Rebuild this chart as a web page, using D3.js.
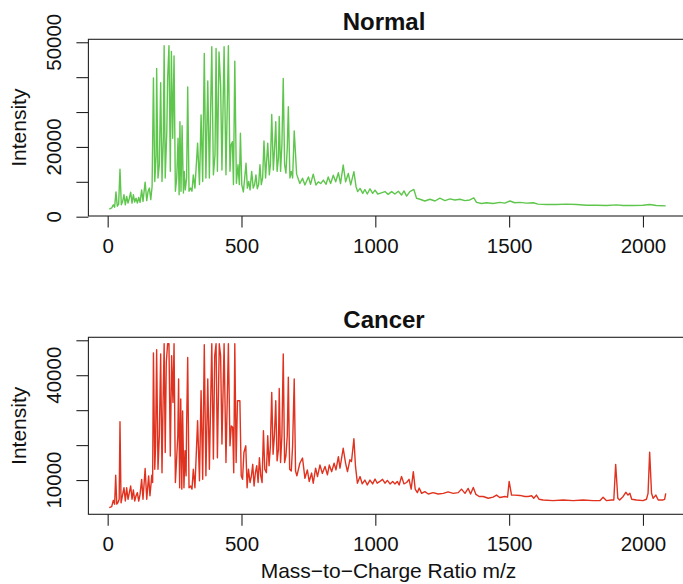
<!DOCTYPE html>
<html>
<head>
<meta charset="utf-8">
<script src="https://cdn.jsdelivr.net/npm/d3@7"></script>
<style>
  html, body { margin: 0; padding: 0; background: #fff; }
  svg { display: block; font-family: "Liberation Sans", Arial, Helvetica, sans-serif; }
</style>
</head>
<body>
<div id="chart"></div>
<script>
/* Mass spectra: Normal vs Cancer */

// m/z and intensity
const normalMz = [6,15,21,26,31,36,41,46,51,56,61,66,71,76,81,86,91,96,101,106,111,116,121,127,132,140,146,151,156,161,166,
  171,176,181,183,188,193,198,203,208,211,215,221,224,229,234,238,243,248,253,258,263,267,270,274,278,283,286,290,295,299,
  304,310,315,320,326,336,343,349,355,361,367,374,380,389,395,401,405,410,416,422,427,435,442,451,457,461,466,470,475,481,
  487,492,496,501,507,512,517,522,527,532,538,544,549,554,559,564,569,574,579,584,590,598,604,608,613,619,623,628,633,638,
  641,646,651,656,661,666,671,675,681,686,691,697,706,718,728,737,750,758,768,778,787,796,806,816,824,833,843,852,862,870,
  880,889,899,908,920,928,934,943,953,961,970,980,990,999,1009,
  1017,1036,1048,1061,1073,1086,1098,1107,1117,1129,1144,1154,1167,1185,1204,1223,1241,1260,1279,1297,1316,1335,1353,1368,
  1378,1397,1416,1440,1465,1484,1503,1521,1540,1565,1590,1608,1640,1677,1714,1752,1789,1826,1864,1901,1926,1963,2000,2025,
  2050,2085];
const normalInt = [2200,2500,3400,2700,7100,3000,3600,13600,3400,4400,6300,3400,5800,3900,5300,7000,3900,6300,4200,5300,3900,5500,4100,7700,4400,9900,4600,7300,8200,4900,8700,
  39800,10100,17700,42500,11100,14900,38400,10100,22500,49000,11100,24400,39600,49000,13000,47400,22500,46100,7300,11100,22500,6300,27200,7300,26100,6800,13000,7700,11100,37200,
  7300,8200,7300,12000,8200,21100,9200,29200,10100,46800,11100,38900,11100,48700,12000,17700,48200,13000,47200,37700,13400,48700,12000,49000,13000,20600,21500,9200,44600,9600,
  14900,9200,23900,9200,7100,11100,15300,8200,10100,7700,13000,8200,9200,12000,8000,9200,14900,9200,11100,21700,11100,21100,12000,14900,29300,13400,18700,27200,13000,16800,
  28700,13000,20600,39600,14900,12500,19600,31500,11100,13000,11100,24600,12200,9500,11000,9100,11400,9300,12200,9100,10000,9500,10500,9300,11400,9500,11900,10000,12600,9500,
  14800,10000,12400,9100,12900,8600,7200,8100,6700,7800,6500,8000,6700,7600,6500,
  6700,7200,6400,7200,6500,7300,6200,7400,5900,7200,7800,5300,5000,4500,5000,4500,5300,4600,5100,4800,5000,4600,4800,5400,
  4100,3800,4000,3800,4100,3900,4500,4000,4100,3900,4000,3600,3500,3500,3600,3500,3300,3300,3200,3400,3200,3200,3300,3500,
  3200,3100];

const cancerMz = [6,15,21,26,30,34,38,43,46,50,55,61,66,71,76,81,86,91,96,101,106,111,116,121,127,132,140,146,150,153,158,165,168,
  171,176,179,183,188,193,198,203,207,211,215,219,224,229,234,239,244,248,253,257,262,265,269,273,277,280,285,289,293,295,299,
  304,310,315,320,326,336,343,349,355,361,367,374,380,389,395,400,405,410,417,422,427,435,442,451,457,462,467,471,475,480,485,
  489,494,499,504,509,516,521,526,532,537,542,547,552,557,562,567,572,577,582,587,593,598,603,608,613,618,623,628,633,638,641,
  646,651,656,661,666,671,675,680,686,691,697,702,707,718,728,737,746,753,762,768,777,784,793,802,812,821,828,837,846,853,862,
  868,880,889,896,905,911,920,926,933,943,951,961,970,980,990,999,1007,
  1017,1027,1036,1045,1055,1065,1073,1082,1089,1098,1107,1117,1126,1134,1142,1149,1157,1164,1173,1185,1198,1216,1235,1254,1272,
  1291,1310,1322,1335,1347,1356,1366,1376,1388,1403,1422,1440,1453,1465,1484,1494,1500,1509,1521,1540,1559,1571,1584,1592,1602,
  1612,1627,1664,1702,1739,1776,1814,1839,1851,1864,1882,1891,1898,1906,1913,1926,1936,1944,1951,1958,1976,2000,2013,2019,2025,
  2032,2038,2048,2057,2075,2081,2085];
const cancerInt = [2100,2400,4200,3100,11400,3100,3500,4500,26700,3500,5500,7800,4000,7800,4500,6400,8300,4500,7200,4000,5500,6400,4000,5900,10200,4500,13300,4500,8300,11200,5500,11400,9300,
  46400,13100,19800,47300,13100,22700,46100,12100,32200,49000,17900,43700,49000,49000,16900,45600,32200,49000,9300,15000,22700,38900,7800,33200,7400,29800,7800,18400,11200,25500,45100,
  7800,8300,7400,13100,7800,27000,9800,35600,10200,48700,11200,38900,13100,49000,16000,45600,49000,16400,49000,45600,20300,49000,15000,49000,19800,25500,25100,12100,49000,15000,32700,
  32700,32700,11200,10200,17900,19800,7800,13100,9300,11200,14500,8300,12100,14100,9300,16400,11200,9300,24100,13100,12100,22700,14100,19800,35100,17400,22700,32700,15500,18800,36200,
  15000,22700,46100,15000,16900,22700,39400,13100,12600,19800,38900,12600,11200,14800,16300,10500,12900,9600,12000,9100,13400,11000,14300,11900,13900,11500,14300,12400,14800,12900,16700,
  13400,19100,14800,12400,15800,15300,21800,13900,9100,11000,8900,10000,8600,10000,8900,10300,9100,
  9600,10200,9100,9900,8900,9600,8900,9600,8600,11000,8900,9300,10200,7400,12400,7400,6400,7700,6200,6700,6000,6400,6000,6200,6600,
  6200,6400,7400,6200,7600,6000,7900,5900,5300,5300,4800,5100,5700,5000,5300,5100,9600,5700,5700,5600,5300,5300,5500,4800,5700,
  4500,4300,4100,4300,4100,4300,4100,4100,5100,4100,4300,4300,14500,4800,4300,5300,6500,5700,6200,4500,4300,4100,4500,6200,18000,
  6200,4800,5700,4300,4300,4500,6200];

const xTicks = [0, 500, 1000, 1500, 2000];
const normalYTicks = [0, 10000, 20000, 30000, 40000, 50000];
const normalYLabels = [0, 20000, 50000];
const cancerYTicks = [10000, 20000, 30000, 40000, 50000];
const cancerYLabels = [10000, 40000];

const width = 683, height = 584;
const left = 88.4, right = 689;

const svg = d3.select("#chart").append("svg")
  .attr("width", width)
  .attr("height", height);

const x = d3.scaleLinear().domain([-72, 2172]).range([left, right]);

const panels = [
  { title: "Normal", mz: normalMz, val: normalInt, color: "#5ec64c", top: 39.3, bottom: 216,
    yTicks: normalYTicks, yLabels: normalYLabels },
  { title: "Cancer", mz: cancerMz, val: cancerInt, color: "#e0321f", top: 337.3, bottom: 514.3,
    yTicks: cancerYTicks, yLabels: cancerYLabels }
];

panels.forEach((p, i) => {
  const y = d3.scaleLinear().domain([200, 50850]).range([p.bottom, p.top]);
  const g = svg.append("g");

  g.append("clipPath").attr("id", "clip" + i)
    .append("rect")
    .attr("x", left).attr("y", p.top)
    .attr("width", right - left).attr("height", p.bottom - p.top);

  const line = d3.line()
    .x((d, k) => x(p.mz[k]))
    .y(d => y(d));

  g.append("path")
    .datum(p.val)
    .attr("clip-path", `url(#clip${i})`)
    .attr("fill", "none")
    .attr("stroke", p.color)
    .attr("stroke-width", 1.4)
    .attr("stroke-linejoin", "round")
    .attr("d", line);

  // box
  g.append("rect")
    .attr("x", left).attr("y", p.top)
    .attr("width", right - left).attr("height", p.bottom - p.top)
    .attr("fill", "none")
    .attr("stroke", "#222")
    .attr("stroke-width", 1.1);

  // x axis
  const xa = g.append("g")
    .attr("transform", `translate(0,${p.bottom})`)
    .call(d3.axisBottom(x).tickValues(xTicks).tickSize(11.5).tickPadding(11).tickFormat(d3.format("d")));
  xa.select(".domain").remove();
  xa.selectAll("line").attr("stroke", "#222").attr("stroke-width", 1.1);
  xa.selectAll("text")
    .attr("font-size", 20.5)
    .attr("fill", "#111");

  // y axis
  const ya = g.append("g")
    .attr("transform", `translate(${left},0)`)
    .call(d3.axisLeft(y).tickValues(p.yTicks).tickSize(12).tickFormat(""));
  ya.select(".domain").remove();
  ya.selectAll("line").attr("stroke", "#222").attr("stroke-width", 1.1);

  g.selectAll(".ylab")
    .data(p.yLabels)
    .enter().append("text")
    .attr("class", "ylab")
    .attr("transform", d => `translate(61,${y(d)}) rotate(-90)`)
    .attr("text-anchor", "middle")
    .attr("font-size", 20.5)
    .attr("fill", "#111")
    .text(d => d);

  g.append("text")
    .attr("transform", `translate(26,${(p.top + p.bottom) / 2}) rotate(-90)`)
    .attr("text-anchor", "middle")
    .attr("font-size", 21)
    .attr("fill", "#111")
    .text("Intensity");

  g.append("text")
    .attr("x", 384)
    .attr("y", p.top - 9)
    .attr("text-anchor", "middle")
    .attr("font-size", 24)
    .attr("font-weight", "bold")
    .attr("fill", "#111")
    .text(p.title);
});

svg.append("text")
  .attr("x", 388.5)
  .attr("y", 578)
  .attr("text-anchor", "middle")
  .attr("font-size", 21)
  .attr("fill", "#111")
  .text("Mass\u2212to\u2212Charge Ratio m/z");
</script>
</body>
</html>
